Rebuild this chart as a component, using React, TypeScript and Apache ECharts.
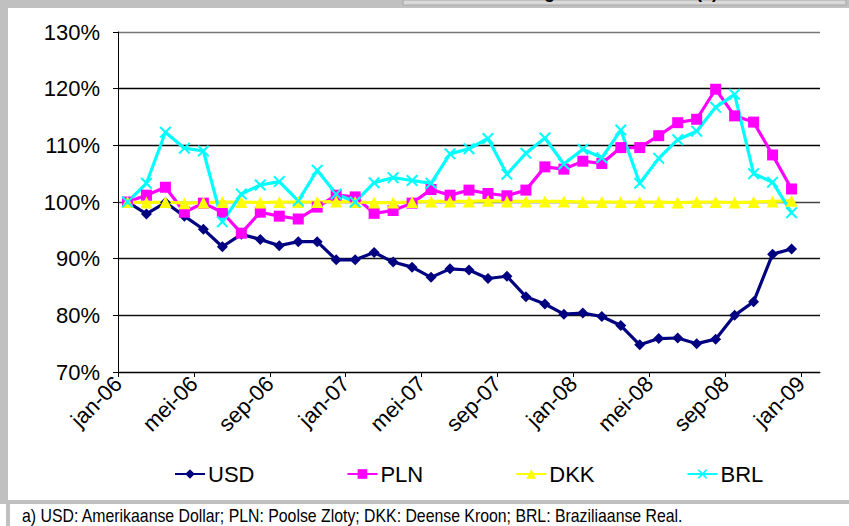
import React, { useEffect, useRef } from "react";
import * as echarts from "echarts";

const categories = [
  "jan-06", "feb-06", "mrt-06", "apr-06", "mei-06", "jun-06", "jul-06", "aug-06", "sep-06", "okt-06", "nov-06", "dec-06",
  "jan-07", "feb-07", "mrt-07", "apr-07", "mei-07", "jun-07", "jul-07", "aug-07", "sep-07", "okt-07", "nov-07", "dec-07",
  "jan-08", "feb-08", "mrt-08", "apr-08", "mei-08", "jun-08", "jul-08", "aug-08", "sep-08", "okt-08", "nov-08", "dec-08",
  "jan-09",
];

const usd = [
  100.0, 97.9, 99.9, 97.5, 95.2, 92.1, 94.3, 93.4, 92.3, 93.0, 93.0, 89.8,
  89.8, 91.1, 89.4, 88.5, 86.7, 88.2, 88.0, 86.5, 86.9, 83.3, 82.0, 80.2,
  80.4, 79.8, 78.2, 74.8, 75.9, 76.0, 75.0, 75.8, 80.0, 82.4, 90.8, 91.7,
];

const pln = [
  100.0, 101.2, 102.6, 98.2, 99.8, 98.2, 94.5, 98.2, 97.5, 97.0, 99.1, 101.2,
  100.9, 98.0, 98.5, 99.8, 102.2, 101.2, 102.1, 101.5, 101.1, 102.1, 106.2, 105.8,
  107.2, 106.8, 109.6, 109.6, 111.7, 114.0, 114.6, 119.9, 115.2, 114.1, 108.3, 102.3,
];

const dkk = [
  100.0, 99.9, 100.0, 99.8, 99.9, 100.0, 100.0, 99.9, 100.0, 100.0, 100.0, 100.1,
  100.0, 99.9, 99.9, 100.0, 100.1, 100.1, 100.1, 100.2, 100.1, 100.1, 100.1, 100.1,
  100.0, 100.0, 100.0, 100.0, 100.0, 99.9, 100.0, 100.0, 99.9, 100.0, 100.1, 100.2,
];

const brl = [
  100.0, 103.3, 112.3, 109.5, 109.0, 96.5, 101.4, 103.0, 103.6, 100.2, 105.6, 101.4,
  100.0, 103.4, 104.3, 103.8, 103.3, 108.5, 109.4, 111.2, 104.9, 108.6, 111.3, 106.7,
  109.3, 107.8, 112.7, 103.3, 107.7, 111.0, 112.5, 116.7, 119.0, 105.0, 103.5, 98.1,
];

const yTicks = { min: 70, max: 130, interval: 10 };

const seriesNames = ["USD", "PLN", "DKK", "BRL"];
const seriesColors = ["#000080", "#ff00ff", "#ffff00", "#00ffff"];

const xSymbol =
  "path://M0,1.2 L1.2,0 L5,3.8 L8.8,0 L10,1.2 L6.2,5 L10,8.8 L8.8,10 L5,6.2 L1.2,10 L0,8.8 L3.8,5 Z";

export default function App() {
  const ref = useRef<HTMLDivElement>(null);

  useEffect(() => {
    if (!ref.current) return;
    const chart = echarts.init(ref.current, null, { renderer: "svg" });
    const font = "'Liberation Sans', Arial, sans-serif";
    const data = [usd, pln, dkk, brl];
    const symbols = ["diamond", "rect", "triangle", xSymbol];
    const sizes = [11, 11, 12, 12];
    // label axis: tick marks sit on the month boundaries, one extra blank slot at the end
    const labelCats = [...categories, ""];

    chart.setOption({
      animation: false,
      backgroundColor: "#ffffff",
      textStyle: { fontFamily: font },
      grid: { left: 118, right: 29, top: 32, bottom: 154 },
      legend: {
        data: seriesNames,
        left: 169,
        top: 458,
        itemWidth: 30,
        itemHeight: 12,
        itemGap: 92,
        textStyle: { fontFamily: font, fontSize: 22, color: "#000", padding: [0, 0, 0, -2] },
      },
      xAxis: [
        {
          type: "category",
          data: labelCats,
          boundaryGap: false,
          axisLine: { lineStyle: { color: "#000", width: 1 } },
          axisTick: { show: true, interval: 3, length: 5, inside: false, lineStyle: { color: "#000" } },
          axisLabel: {
            interval: 3,
            rotate: 45,
            margin: 8,
            fontFamily: font,
            fontSize: 22,
            color: "#000",
          },
          splitLine: { show: false },
        },
        {
          type: "category",
          data: categories,
          boundaryGap: true,
          show: false,
        },
      ],
      yAxis: {
        type: "value",
        min: yTicks.min,
        max: yTicks.max,
        interval: yTicks.interval,
        axisLine: { show: true, lineStyle: { color: "#000", width: 1 } },
        axisTick: { show: true, length: 5, lineStyle: { color: "#000" } },
        axisLabel: {
          formatter: "{value}%",
          margin: 18,
          fontFamily: font,
          fontSize: 22,
          color: "#000",
        },
        splitLine: {
          show: true,
          lineStyle: {
            color: ["#000", "#111", "#111", "#444", "#000", "#000", "#777"],
            width: 1.3,
          },
        },
      },
      graphic: [
        { type: "rect", shape: { x: 0, y: 0, width: 849, height: 8 }, style: { fill: "#c0c0c0" }, silent: true },
        { type: "rect", shape: { x: 403, y: 0, width: 443, height: 5 }, style: { fill: "#d9d9d9", stroke: "#a6a6a6", lineWidth: 1 }, silent: true },
        {
          type: "text",
          left: 395,
          top: -17,
          style: { text: "Koersontwikkeling vreemde valuta (a)", font: "bold 18px 'Liberation Sans', Arial, sans-serif", fill: "#000" },
          silent: true,
        },
        { type: "rect", shape: { x: 0, y: 0, width: 8, height: 500 }, style: { fill: "#c0c0c0" }, silent: true },
        { type: "rect", shape: { x: 0, y: 500, width: 849, height: 4 }, style: { fill: "#c0c0c0" }, silent: true },
        { type: "rect", shape: { x: 6, y: 504, width: 4, height: 22 }, style: { fill: "#c0c0c0" }, silent: true },
        {
          type: "text",
          x: 22,
          y: 507,
          scaleX: 0.88,
          style: {
            text: "a) USD: Amerikaanse Dollar; PLN: Poolse Zloty; DKK: Deense Kroon; BRL: Braziliaanse Real.",
            font: "18px 'Liberation Sans', Arial, sans-serif",
            fill: "#000",
          },
          silent: true,
        },
      ],
      series: seriesNames.map((name, i) => ({
        name,
        type: "line",
        xAxisIndex: 1,
        data: data[i],
        symbol: symbols[i],
        symbolSize: sizes[i],
        showAllSymbols: true,
        lineStyle: { color: seriesColors[i], width: 3.2 },
        itemStyle: { color: seriesColors[i], borderColor: seriesColors[i], borderWidth: 0 },
        emphasis: { disabled: true },
      })),
    });

    return () => chart.dispose();
  }, []);

  return <div ref={ref} style={{ width: 849, height: 526, position: "absolute", left: 0, top: 0 }} />;
}
